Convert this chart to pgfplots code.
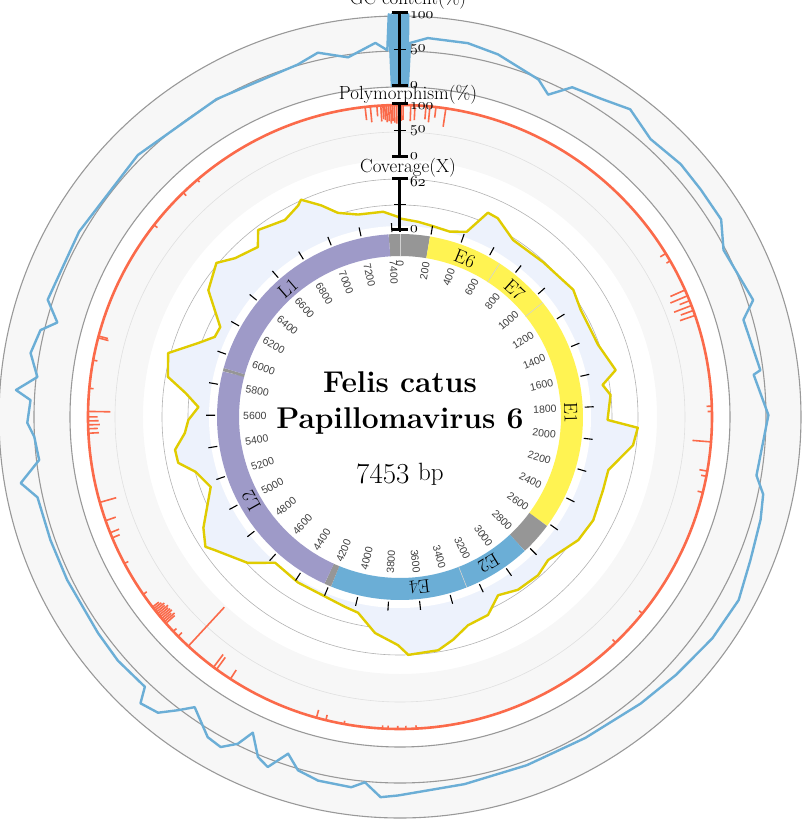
\documentclass[border=0pt]{standalone}
\usepackage{pgfplots}
\usepackage{pgfplotstable}
\pgfplotsset{compat=1.18}
\usepackage{fontspec}
\newfontfamily\possans{Liberation Sans}
\definecolor{gcblue}{HTML}{6BAED6}
\definecolor{polyred}{HTML}{FB6A4A}
\definecolor{covline}{HTML}{E0CC00}
\definecolor{covfill}{HTML}{EDF2FC}
\definecolor{bandgrey}{HTML}{F7F7F7}
\definecolor{ringgrey}{HTML}{999999}
\definecolor{genegrey}{HTML}{969696}
\definecolor{geneyel}{HTML}{FFF352}
\definecolor{geneblue}{HTML}{6BAED6}
\definecolor{genepurp}{HTML}{9E9AC8}
\newcommand\osf[1]{\scalebox{1.55}{$\mathnormal{#1}$}}

% coverage (X) along the genome (bp)
\pgfplotstableread{
pos cov
0 14
110 11
207 8
311 6
410 12
482 43
542 42
675 28
884 29
1112 34
1230 28
1449 29
1609 41
1677 22
1739 30
1880 25
1917 62
2006 58
2159 34
2273 35
2445 39
2580 36
2774 23
2876 28
3016 27
3130 20
3230 36
3352 39
3449 51
3534 60
3685 62
3737 50
3863 37
3977 16
4060 13
4155 10
4381 9
4567 6
4683 29
4851 50
4892 57
4981 47
5170 18
5279 30
5348 48
5418 49
5501 35
5573 30
5648 18
5722 35
5793 59
5876 63
5909 65
6006 34
6074 18
6140 17
6283 52
6418 64
6499 51
6627 42
6683 58
6826 50
6921 58
6946 63
7031 47
7103 32
7211 24
7356 23
7441 16
7453 14
}\covdata

% GC content (%)
\pgfplotstableread{
pos gc
0 100
4 0
8 100
12 0
16 100
20 0
24 100
28 0
32 60
87 68
213 68
313 62
462 47
511 33
571 57
667 63
762 74
870 60
994 65
1095 64
1209 64
1298 46
1484 57
1536 36
1710 45
1722 35
1857 52
2056 42
2112 56
2192 61
2323 66
2451 75
2594 72
2753 65
2898 60
3105 55
3312 55
3520 58
3733 66
3787 69
3840 50
3882 59
3989 58
4060 51
4107 33
4155 60
4196 52
4244 24
4273 47
4317 62
4368 59
4457 34
4495 51
4540 71
4600 77
4625 56
4745 58
4853 56
5050 55
5188 55
5331 56
5385 75
5449 45
5526 49
5571 58
5644 54
5673 75
5720 47
5793 61
5871 54
5909 34
5971 56
6211 55
6521 55
6832 50
7118 50
7190 59
7283 45
7375 61
7412 50
7420 100
7424 0
7428 100
7432 0
7436 100
7440 0
7444 100
7448 0
7453 100
}\gcdata

% polymorphism spikes (%)
\pgfplotstableread{
pos len
5 30
12 28
41 30
57 28
99 25
114 30
137 20
175 35
1209 12
1242 8
1366 30
1390 35
1410 20
1430 35
1450 25
1470 30
1822 10
1842 8
1958 35
2070 15
2090 10
2153 10
2671 8
2822 8
3665 6
3704 6
3735 6
3772 6
3793 6
3940 6
4011 10
4048 15
4408 20
4472 28
4486 30
4611 100
4665 10
4691 8
4733 22
4741 25
4749 20
4757 25
4765 24
4773 22
4781 25
4789 20
4797 22
4805 18
4813 15
4873 8
5010 8
5118 15
5139 18
5188 20
5261 32
5528 20
5545 18
5560 22
5575 20
5590 18
5611 42
5699 8
5807 8
5894 20
5901 18
6376 8
6542 8
6615 6
7320 25
7340 30
7365 20
7380 30
7388 26
7395 28
7402 32
7410 30
7418 35
7425 30
7432 33
7440 35
7447 30
}\polydata

\newcommand\gene[3]{\addplot[draw=#3, line width=22pt, domain=#1:#2, samples=30] ({172*sin(x*0.0483027)},{172*cos(x*0.0483027)});}

\begin{document}
\begin{tikzpicture}
\useasboundingbox (-400pt,-408pt) rectangle (409pt,417pt);
\clip (-400pt,-408pt) rectangle (409pt,417pt);
% background rings
\fill[bandgrey, even odd rule] (0,0) circle[radius=401pt] (0,0) circle[radius=330pt];
\draw[ringgrey, line width=1.1pt] (0,0) circle[radius=401pt] (0,0) circle[radius=366pt] (0,0) circle[radius=330pt];
\fill[bandgrey, even odd rule] (0,0) circle[radius=312pt] (0,0) circle[radius=257pt];
\draw[black!12, line width=0.6pt] (0,0) circle[radius=285pt];
\draw[black!30, line width=0.6pt] (0,0) circle[radius=212pt] (0,0) circle[radius=238pt];
\draw[polyred, line width=2.6pt] (0,0) circle[radius=312pt];

\begin{axis}[at={(-400pt,-408pt)}, anchor=south west, width=809pt, height=825pt,
  scale only axis, xmin=-400, xmax=409, ymin=-408, ymax=417, hide axis, clip=false]
% coverage area
\addplot[fill=covfill, draw=none] table[x expr={(187+0.823*\thisrow{cov})*sin(\thisrow{pos}*0.0483027)},
  y expr={(187+0.823*\thisrow{cov})*cos(\thisrow{pos}*0.0483027)}] {\covdata};
\fill[white] (axis cs:0,0) circle[radius=191pt];
% genes
\gene{7380}{7453}{genegrey}
\gene{0}{195}{genegrey}
\gene{195}{683}{geneyel}
\gene{683}{1062}{geneyel}
\gene{1062}{2620}{geneyel}
\gene{2620}{2836}{genegrey}
\gene{2836}{3283}{geneblue}
\gene{3283}{4185}{geneblue}
\gene{4185}{4230}{genegrey}
\gene{4230}{5890}{genepurp}
\gene{5890}{5910}{genegrey}
\gene{5910}{7380}{genepurp}
% coverage line
\addplot[covline, line width=2.4pt, line join=round] table[x expr={(187+0.823*\thisrow{cov})*sin(\thisrow{pos}*0.0483027)},
  y expr={(187+0.823*\thisrow{cov})*cos(\thisrow{pos}*0.0483027)}] {\covdata};
% polymorphism
\addplot[polyred, line width=1.6pt, quiver={u=-0.53*\thisrow{len}*sin(\thisrow{pos}*0.0483027), v=-0.53*\thisrow{len}*cos(\thisrow{pos}*0.0483027)}]
  table[x expr={312*sin(\thisrow{pos}*0.0483027)}, y expr={312*cos(\thisrow{pos}*0.0483027)}] {\polydata};
% GC content
\addplot[gcblue, line width=2.4pt, line join=round] table[x expr={(331+0.72*\thisrow{gc})*sin(\thisrow{pos}*0.0483027)},
  y expr={(331+0.72*\thisrow{gc})*cos(\thisrow{pos}*0.0483027)}] {\gcdata};
\end{axis}

% thin borders between adjacent genes
\foreach \p in {0,683,1062,3283}{
  \pgfmathsetmacro\t{\p*0.0483027}
  \draw[black!18, line width=0.6pt] (90-\t:161pt) -- (90-\t:183pt);
}
% position ticks and labels
\foreach \a in {0,200,...,7400}{
  \pgfmathsetmacro\t{\a*0.0483027}
  \draw[black, line width=1.1pt] (90-\t:185pt) -- (90-\t:194pt);
  \ifdim\t pt>180pt
    \pgfmathsetmacro\rot{270-\t}\def\anc{west}
  \else
    \pgfmathsetmacro\rot{90-\t}\def\anc{east}
  \fi
  \node[rotate=\rot, anchor=\anc, inner sep=0pt, text=black!75, font=\possans\fontsize{10.5}{12}\selectfont] at (90-\t:157pt) {\a};
}
% gene names
\foreach \p/\n in {460/E6, 870/E7, 1836/E1, 3078/E2, 3588/E4, 4979/L2, 6604/L1}{
  \pgfmathsetmacro\t{\p*0.0483027}
  \node[rotate=-\t, font=\fontsize{19}{20}\selectfont, inner sep=0pt] at (90-\t:171pt) {\n};
}
% track scales
\draw[line width=3pt] (0,187pt) -- (0,238pt);
\draw[line width=3pt] (-8pt,187pt) -- (8pt,187pt) (-8pt,238pt) -- (8pt,238pt);
\draw[line width=1.5pt] (-6pt,212.5pt) -- (6pt,212.5pt);
\draw[line width=3pt] (0,260pt) -- (0,313pt);
\draw[line width=3pt] (-8pt,260pt) -- (8pt,260pt) (-8pt,313pt) -- (8pt,313pt);
\draw[line width=1.5pt] (-6pt,286.5pt) -- (6pt,286.5pt);
\draw[line width=3pt] (0,331pt) -- (0,404pt);
\draw[line width=3pt] (-8pt,331pt) -- (8pt,331pt) (-8pt,404pt) -- (8pt,404pt);
\draw[line width=1.5pt] (-6pt,367.5pt) -- (6pt,367.5pt);
\begin{scope}[every node/.style={anchor=west, inner sep=0pt}]
\node at (10pt,188pt) {\osf{0}};
\node at (10pt,235pt) {\osf{62}};
\node at (10pt,261pt) {\osf{0}};
\node at (10pt,286pt) {\osf{50}};
\node at (10pt,311pt) {\osf{100}};
\node at (10pt,332pt) {\osf{0}};
\node at (10pt,367pt) {\osf{50}};
\node at (10pt,402pt) {\osf{100}};
\end{scope}
\begin{scope}[every node/.style={anchor=base, inner sep=0pt, font=\fontsize{19}{21}\selectfont}]
\node at (8pt,412pt) {GC content(\%)};
\node at (8pt,317pt) {Polymorphism(\%)};
\node at (8pt,244pt) {Coverage(X)};
\end{scope}
% centre title
\node[anchor=base, font=\fontsize{30}{34}\selectfont\bfseries] at (0,25pt) {Felis catus};
\node[anchor=base, font=\fontsize{30}{34}\selectfont\bfseries] at (0,-11pt) {Papillomavirus 6};
\node[anchor=base, inner sep=0pt] at (0,-66pt) {\fontsize{29}{32}\selectfont 7453 \raisebox{3pt}{\fontsize{25}{28}\selectfont bp}};
\end{tikzpicture}
\end{document}
